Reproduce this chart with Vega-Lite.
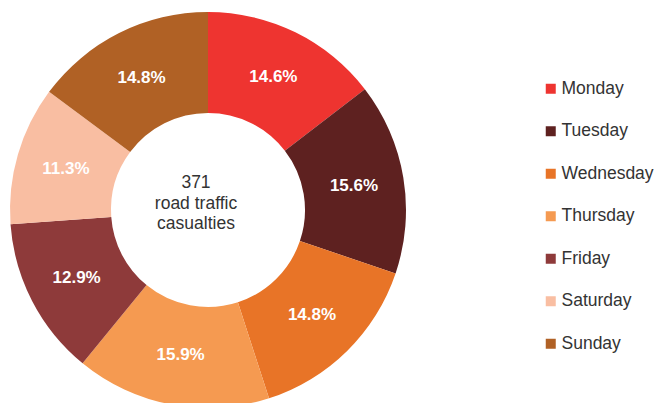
{
  "$schema": "https://vega.github.io/schema/vega-lite/v6.json",
  "width": 416,
  "height": 420,
  "padding": 0,
  "background": "white",
  "config": {"view": {"stroke": null}, "font": "Liberation Sans"},
  "data": {
    "values": [
      {"day": "Monday", "order": 1, "count": 54, "pct": "14.6%"},
      {"day": "Tuesday", "order": 2, "count": 58, "pct": "15.6%"},
      {"day": "Wednesday", "order": 3, "count": 55, "pct": "14.8%"},
      {"day": "Thursday", "order": 4, "count": 59, "pct": "15.9%"},
      {"day": "Friday", "order": 5, "count": 48, "pct": "12.9%"},
      {"day": "Saturday", "order": 6, "count": 42, "pct": "11.3%"},
      {"day": "Sunday", "order": 7, "count": 55, "pct": "14.8%"}
    ]
  },
  "layer": [
    {
      "mark": {"type": "arc", "innerRadius": 97, "outerRadius": 198},
      "encoding": {
        "theta": {"field": "count", "type": "quantitative", "stack": true},
        "order": {"field": "order", "type": "quantitative"},
        "color": {
          "field": "day",
          "type": "nominal",
          "sort": ["Monday", "Tuesday", "Wednesday", "Thursday", "Friday", "Saturday", "Sunday"],
          "scale": {
            "domain": ["Monday", "Tuesday", "Wednesday", "Thursday", "Friday", "Saturday", "Sunday"],
            "range": ["#EE3430", "#5E2120", "#E87427", "#F59A51", "#8E3A3A", "#F9BEA2", "#B06125"]
          },
          "legend": {
            "title": null,
            "orient": "none",
            "legendX": 542,
            "legendY": 80,
            "padding": 0,
            "symbolType": "square",
            "symbolSize": 100,
            "symbolStrokeWidth": 0,
            "labelFontSize": 17.5,
            "labelColor": "#333333",
            "labelOffset": 2,
            "rowPadding": 23.5,
            "labelFont": "Liberation Sans"
          }
        }
      }
    },
    {
      "mark": {"type": "text", "radius": 148, "color": "white", "fontWeight": "bold", "fontSize": 17, "font": "Liberation Sans"},
      "encoding": {
        "theta": {"field": "count", "type": "quantitative", "stack": true},
        "order": {"field": "order", "type": "quantitative"},
        "text": {"field": "pct", "type": "nominal"}
      }
    },
    {
      "data": {"values": [{"label": ["371", "road traffic", "casualties"]}]},
      "mark": {"type": "text", "fontSize": 17.5, "color": "#333333", "lineHeight": 20.5, "dx": -12, "dy": -27, "baseline": "middle", "font": "Liberation Sans"},
      "encoding": {"text": {"field": "label", "type": "nominal"}}
    }
  ]
}
